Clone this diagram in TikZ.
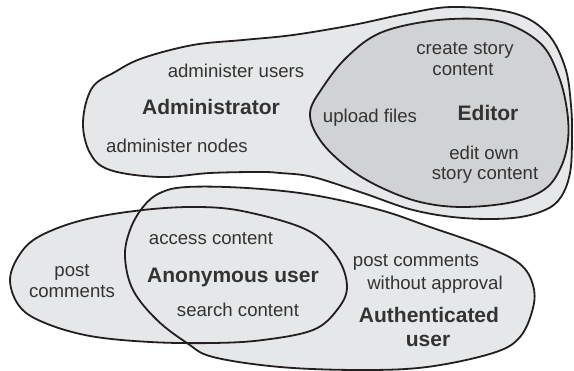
\documentclass[tikz,border=0pt]{standalone}
\usepackage{fontspec}
\setmainfont{Liberation Sans}
\definecolor{setfill}{HTML}{E6E7E8}
\definecolor{editfill}{HTML}{D1D2D4}
\definecolor{outline}{HTML}{231F20}
\definecolor{ink}{HTML}{333333}
\begin{document}
\begin{tikzpicture}[x=1pt,y=-1pt,
  setline/.style={draw=outline, line width=1.8pt, line join=round},
  perm/.style={text=ink, font=\fontsize{18.6}{21}\selectfont, anchor=base, inner sep=0pt},
  role/.style={perm, font=\fontsize{21}{26}\selectfont\bfseries}]
\path[use as bounding box] (0,0) rectangle (574,371);

% Administrator region
\draw[setline, fill=setfill] plot[smooth cycle, tension=0.6] coordinates {
  (83,122) (92,88) (115,72) (143,58) (193,45) (243,40) (293,35) (353,25)
  (405,14) (453,7) (513,13) (547,33) (565,67) (571,105) (572,140) (570,173)
  (561,197) (545,210) (513,218) (463,218) (413,210) (363,193) (313,177)
  (280,173) (260,172) (210,173) (160,177) (110,170) (90,153)};

% Editor region
\draw[setline, fill=editfill] plot[smooth cycle, tension=0.6] coordinates {
  (310,113) (323,87) (347,57) (380,33) (430,21) (480,19) (513,26) (543,46)
  (559,77) (567,110) (568,140) (561,167) (545,189) (513,202) (463,207)
  (420,202) (380,187) (347,167) (320,140)};

% Anonymous / authenticated regions: fills first, then both outlines
\def\leftset{plot[smooth cycle, tension=0.6] coordinates {
  (10,280) (20,254) (40,236) (83,220) (143,210) (200,207) (247,212)
  (307,230) (337,257) (347,287) (337,310) (313,330) (263,340) (213,343)
  (150,342) (90,336) (45,323) (20,307)}}
\def\bigset{plot[smooth cycle, tension=0.6] coordinates {
  (125,257) (130,230) (143,207) (160,193) (187,187) (247,188) (313,195)
  (380,210) (430,227) (487,247) (520,264) (533,285) (533,308) (520,337)
  (493,353) (427,367) (360,370) (280,367) (213,357) (187,343) (157,320)
  (133,290)}}
\fill[setfill] \leftset;
\fill[setfill] \bigset;
\draw[setline] \leftset;
\draw[setline] \bigset;

% Labels
\node[perm] (admusers) at (236,78) {administer users};
\node[role] (admin) at (211,115) {Administrator};
\node[perm] (admnodes) at (177,153) {administer nodes};
\node[perm] (upload) at (370,123) {upload files};
\node[role] (editor) at (488,120.5) {Editor};
\node[perm] (create1) at (465,55) {create story};
\node[perm] (create2) at (463,76) {content};
\node[perm] (editown1) at (484,160) {edit own};
\node[perm] (editown2) at (485,180) {story content};
\node[perm] (post1) at (72,277) {post};
\node[perm] (post2) at (72,298) {comments};
\node[perm] (access) at (211,245) {access content};
\node[role] (anon) at (233,283) {Anonymous user};
\node[perm] (search) at (238,317) {search content};
\node[perm] (noappr1) at (416,267) {post comments};
\node[perm] (noappr2) at (435,290) {without approval};
\node[role] (auth1) at (429,323) {Authenticated};
\node[role] (auth2) at (428,347) {user};
\end{tikzpicture}
\end{document}
